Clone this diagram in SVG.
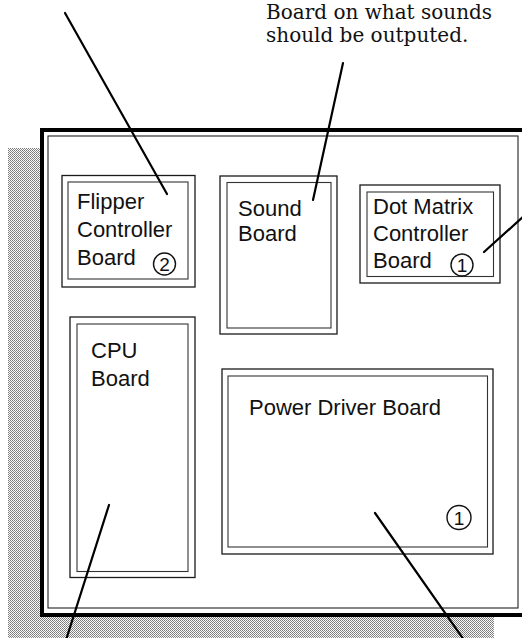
<svg xmlns="http://www.w3.org/2000/svg" width="522" height="638" viewBox="0 0 522 638">
<style>
.board{fill:#fff;stroke:#1a1a1a;stroke-width:1.3}
.inner{fill:none;stroke:#333;stroke-width:1.1}
.lbl{font-family:"Liberation Sans",Arial,sans-serif;font-size:22px;fill:#111}
.num{font-family:"Liberation Sans",Arial,sans-serif;font-size:19px;fill:#111;text-anchor:middle}
.circ{fill:none;stroke:#111;stroke-width:1.4}
.note{font-family:"DejaVu Serif",serif;font-size:20px;fill:#111}
.conn line{stroke:#000;stroke-width:2.2;stroke-linecap:round}
</style>
<defs>
<pattern id="dither" width="2" height="2" patternUnits="userSpaceOnUse">
<rect width="2" height="2" fill="#fafafa"/>
<rect x="0" y="0" width="1" height="1" fill="#777"/>
<rect x="1" y="1" width="1" height="1" fill="#8a8a8a"/>
</pattern>
</defs>
<rect width="522" height="638" fill="#fff"/>
<!-- shading -->
<rect x="8" y="148" width="33" height="490" fill="url(#dither)"/>
<rect x="8" y="616" width="486" height="22" fill="url(#dither)"/>
<!-- cabinet frame -->
<rect x="42" y="130" width="500" height="485" fill="#fff" stroke="#000" stroke-width="4"/>
<rect x="48" y="136" width="470" height="472" fill="none" stroke="#222" stroke-width="1.1"/>

<g id="note">
<text class="note" x="266" y="18.5">Board on what sounds</text>
<text class="note" x="266" y="41.5">should be outputed.</text>
</g>

<g id="flipper">
<rect class="board" x="62" y="175.5" width="133" height="111.5"/>
<rect class="inner" x="68" y="182" width="120" height="97"/>
<text class="lbl" x="77" y="209">Flipper</text>
<text class="lbl" x="77" y="237">Controller</text>
<text class="lbl" x="77" y="265">Board</text>
<circle class="circ" cx="164.5" cy="264" r="11"/>
<text class="num" x="164.5" y="271">2</text>
</g>

<g id="sound">
<rect class="board" x="220" y="176" width="117" height="158"/>
<rect class="inner" x="227" y="182.5" width="104" height="145.5"/>
<text class="lbl" x="238" y="216">Sound</text>
<text class="lbl" x="238" y="241">Board</text>
</g>

<g id="dotmatrix">
<rect class="board" x="360" y="185" width="140" height="98"/>
<rect class="inner" x="367" y="192" width="126.5" height="84.5"/>
<text class="lbl" x="373" y="214">Dot Matrix</text>
<text class="lbl" x="373" y="241">Controller</text>
<text class="lbl" x="373" y="268">Board</text>
<circle class="circ" cx="462" cy="265" r="11"/>
<text class="num" x="462" y="272">1</text>
</g>

<g id="cpu">
<rect class="board" x="70" y="317" width="125" height="260.5"/>
<rect class="inner" x="77" y="324" width="111" height="247.5"/>
<text class="lbl" x="91" y="358">CPU</text>
<text class="lbl" x="91" y="386">Board</text>
</g>

<g id="power">
<rect class="board" x="222" y="369" width="271" height="185"/>
<rect class="inner" x="228" y="376" width="259.5" height="171"/>
<text class="lbl" x="249" y="415">Power Driver Board</text>
<circle class="circ" cx="459" cy="517.5" r="12"/>
<text class="num" x="459" y="524.5">1</text>
</g>

<g id="connectors" class="conn">
<line x1="65" y1="13" x2="167" y2="194"/>
<line x1="343" y1="63" x2="313" y2="200"/>
<line x1="524" y1="216" x2="484" y2="252"/>
<line x1="109" y1="505" x2="66" y2="640"/>
<line x1="375" y1="513" x2="464" y2="640"/>
</g>
</svg>
